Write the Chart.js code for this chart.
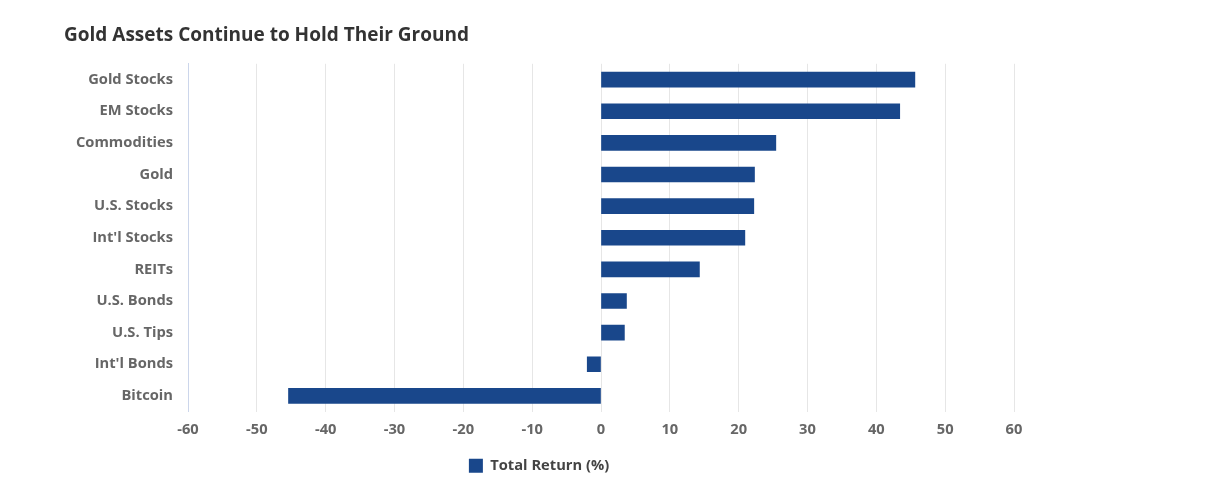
<!DOCTYPE html>
<html>
<head>
<meta charset="utf-8">
<script src="https://cdn.jsdelivr.net/npm/chart.js@4/dist/chart.umd.min.js"></script>
<style>
  html,body{margin:0;padding:0;background:#fff;}
  #wrap{width:1212px;height:494px;}
</style>
</head>
<body>
<div id="wrap"><canvas id="chart"></canvas></div>
<script>
// ---------- DATA ----------
const categories = ['Gold Stocks','EM Stocks','Commodities','Gold','U.S. Stocks',"Int'l Stocks",'REITs','U.S. Bonds','U.S. Tips',"Int'l Bonds",'Bitcoin'];
const totalReturn = [45.6, 43.4, 25.4, 22.3, 22.2, 20.9, 14.3, 3.7, 3.4, -2.0, -45.4];
const xMin = -60, xMax = 60, xStep = 10;

const FONT = "'Open Sans', 'Noto Sans', sans-serif";
const BAR = '#19478b';

const ctx = document.getElementById('chart').getContext('2d');
new Chart(ctx,{
  type:'bar',
  data:{
    labels:categories,
    datasets:[{label:'Total Return (%)',data:totalReturn,backgroundColor:BAR,borderWidth:0,barThickness:15}]
  },
  options:{
    indexAxis:'y',
    responsive:true,
    maintainAspectRatio:false,
    animation:false,
    layout:{padding:{left:64,right:198,top:13,bottom:11}},
    scales:{
      x:{
        min:xMin,max:xMax,
        ticks:{stepSize:xStep,color:'#666',padding:9,font:{family:FONT,size:14.7,weight:'bold'}},
        grid:{color:'#e6e6e6',lineWidth:1,drawTicks:false},
        border:{display:false}
      },
      y:{
        ticks:{color:'#666',padding:15,font:{family:FONT,size:14.7,weight:'bold'}},
        grid:{display:false,drawTicks:false},
        border:{display:true,color:'#ccd6eb',width:1},
        afterFit(scale){ scale.width = 124; }
      }
    },
    plugins:{
      title:{
        display:true,text:'Gold Assets Continue to Hold Their Ground',align:'start',
        color:'#333',font:{family:FONT,size:19,weight:'bold'},padding:{top:11,bottom:17}
      },
      legend:{
        position:'bottom',
        labels:{boxWidth:14,boxHeight:14,color:'#444',padding:11,font:{family:FONT,size:14.7,weight:'bold'}}
      },
      tooltip:{enabled:false}
    }
  }
});
</script>
</body>
</html>
